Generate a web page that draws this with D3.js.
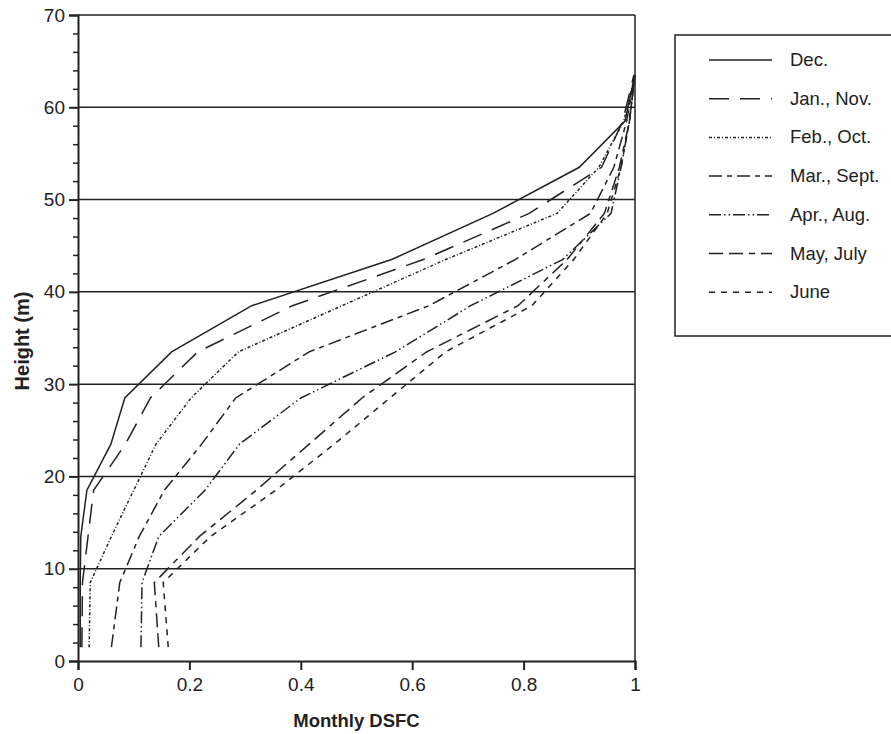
<!DOCTYPE html>
<html><head><meta charset="utf-8">
<script src="https://cdn.jsdelivr.net/npm/d3@7"></script>
<style>body{margin:0;background:#fff}svg{display:block}</style>
</head><body>
<svg id="c" width="891" height="734"></svg>
<script>
const heights = [1.5, 8.5, 13.5, 18.5, 23.5, 28.5, 33.5, 38.5, 43.5, 48.5, 53.5, 58.5, 63.5];
const seriesNames = ["Dec.", "Jan., Nov.", "Feb., Oct.", "Mar., Sept.", "Apr., Aug.", "May, July", "June"];
const dec   = [0.004, 0.004, 0.005, 0.016, 0.059, 0.084, 0.168, 0.312, 0.563, 0.745, 0.900, 0.982, 1.000];
const janNov= [0.007, 0.008, 0.018, 0.028, 0.085, 0.130, 0.215, 0.385, 0.620, 0.810, 0.940, 0.978, 0.998];
const febOct= [0.020, 0.022, 0.060, 0.100, 0.140, 0.203, 0.288, 0.474, 0.660, 0.860, 0.935, 0.980, 1.000];
const marSep= [0.060, 0.075, 0.110, 0.155, 0.222, 0.283, 0.415, 0.630, 0.785, 0.920, 0.962, 0.985, 1.000];
const aprAug= [0.113, 0.115, 0.145, 0.228, 0.290, 0.400, 0.570, 0.705, 0.870, 0.957, 0.975, 0.990, 1.000];
const mayJul= [0.145, 0.137, 0.218, 0.320, 0.415, 0.510, 0.626, 0.790, 0.878, 0.945, 0.972, 0.990, 1.000];
const june  = [0.162, 0.153, 0.238, 0.355, 0.460, 0.560, 0.660, 0.815, 0.890, 0.950, 0.975, 0.990, 1.000];
const seriesValues = [dec, janNov, febOct, marSep, aprAug, mayJul, june];
const dashes = ["", "20,11", "3,2,1,2", "13,5,5,5", "12,3,1.5,3,1.5,3", "14,6,14,6,6,6", "6,6"];
const xTicks = [0, 0.2, 0.4, 0.6, 0.8, 1];
const xTickLabels = ["0", "0.2", "0.4", "0.6", "0.8", "1"];
const yTicks = [0, 10, 20, 30, 40, 50, 60, 70];

const svg = d3.select("#c");
const font = "Arial, 'Liberation Sans', sans-serif";
const L = 78, R = 635, T = 15, B = 661;
const x = d3.scaleLinear().domain([0, 1]).range([L, R]);
const y = d3.scaleLinear().domain([0, 70]).range([B, T]);
const ink = "#222";

// gridlines
svg.append("g").selectAll("line").data(yTicks.filter(d => d > 0 && d < 70)).join("line")
  .attr("x1", L).attr("x2", R).attr("y1", d => y(d)).attr("y2", d => y(d))
  .attr("stroke", ink).attr("stroke-width", 1.5);

// frame top & right
svg.append("line").attr("x1", L).attr("x2", R).attr("y1", y(70)).attr("y2", y(70)).attr("stroke", ink).attr("stroke-width", 1.5);
svg.append("line").attr("x1", R).attr("x2", R).attr("y1", T).attr("y2", B).attr("stroke", ink).attr("stroke-width", 1.5);

// y axis
const yAxis = svg.append("g").attr("transform", `translate(${L},0)`)
  .call(d3.axisLeft(y).tickValues(yTicks).tickSize(9).tickPadding(4));
yAxis.selectAll("text").attr("font-family", font).attr("font-size", 19).attr("fill", ink);
yAxis.selectAll("line,path").attr("stroke", ink).attr("stroke-width", 2);
const yMinor = svg.append("g").attr("transform", `translate(${L},0)`)
  .call(d3.axisLeft(y).tickValues(d3.range(0, 71, 2).filter(d => d % 10 !== 0)).tickSize(5).tickFormat(""));
yMinor.select("path").remove();
yMinor.selectAll("line").attr("stroke", ink).attr("stroke-width", 1.5);

// x axis
const xAxis = svg.append("g").attr("transform", `translate(0,${B})`)
  .call(d3.axisBottom(x).tickValues(xTicks).tickFormat((d, i) => xTickLabels[i]).tickSize(9).tickPadding(8));
xAxis.selectAll("text").attr("font-family", font).attr("font-size", 19).attr("fill", ink);
xAxis.selectAll("line,path").attr("stroke", ink).attr("stroke-width", 2);

// axis titles
svg.append("text").attr("x", (L + R) / 2).attr("y", 727).attr("text-anchor", "middle")
  .attr("font-family", font).attr("font-weight", "bold").attr("font-size", 18.5).attr("fill", ink).text("Monthly DSFC");
svg.append("text").attr("transform", `translate(29,341) rotate(-90)`).attr("text-anchor", "middle")
  .attr("font-family", font).attr("font-weight", "bold").attr("font-size", 20).attr("fill", ink).text("Height (m)");

// lines
const line = d3.line().x(d => x(d[0])).y(d => y(d[1]));
seriesValues.forEach((vals, i) => {
  svg.append("path").datum(vals.map((v, j) => [v, heights[j]]))
    .attr("d", line).attr("fill", "none").attr("stroke", ink).attr("stroke-width", 1.5)
    .attr("stroke-dasharray", dashes[i] || null);
});

// legend
const lg = svg.append("g");
lg.append("rect").attr("x", 675).attr("y", 35).attr("width", 230).attr("height", 301)
  .attr("fill", "none").attr("stroke", ink).attr("stroke-width", 1.5);
seriesNames.forEach((n, i) => {
  const yy = 60 + i * 38.7;
  lg.append("line").attr("x1", 709).attr("x2", 772).attr("y1", yy).attr("y2", yy)
    .attr("stroke", ink).attr("stroke-width", 1.5).attr("stroke-dasharray", dashes[i] || null);
  lg.append("text").attr("x", 790).attr("y", yy + 6).attr("font-family", font).attr("font-size", 18.5)
    .attr("fill", ink).text(n);
});
</script>
</body></html>
